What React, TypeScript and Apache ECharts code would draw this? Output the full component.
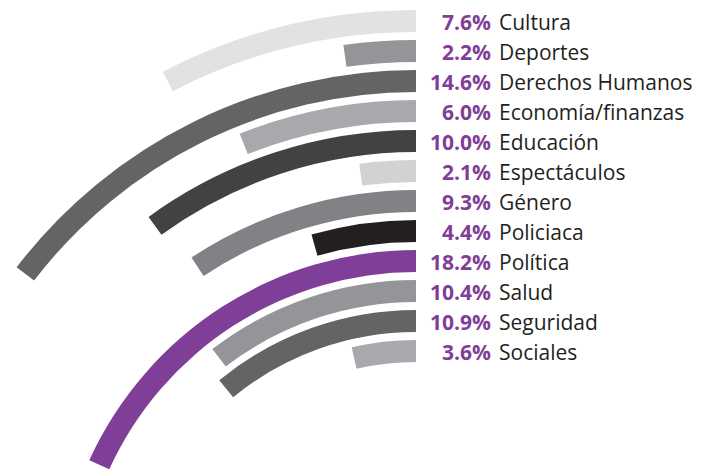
import React, { useEffect, useRef } from "react";
import * as echarts from "echarts";

const categories = [
  "Cultura",
  "Deportes",
  "Derechos Humanos",
  "Economía/finanzas",
  "Educación",
  "Espectáculos",
  "Género",
  "Policiaca",
  "Política",
  "Salud",
  "Seguridad",
  "Sociales",
];
const values = [7.6, 2.2, 14.6, 6.0, 10.0, 2.1, 9.3, 4.4, 18.2, 10.4, 10.9, 3.6];
const percentLabels = ["7.6%", "2.2%", "14.6%", "6.0%", "10.0%", "2.1%", "9.3%", "4.4%", "18.2%", "10.4%", "10.9%", "3.6%"];
const colors = [
  "#e1e2e3",
  "#939598",
  "#636466",
  "#a7a9ac",
  "#414244",
  "#d1d2d4",
  "#808285",
  "#231f20",
  "#7f3f98",
  "#939598",
  "#636466",
  "#a7a9ac",
];

// layout constants
const CX = 416;
const TOP0 = 21; // vertical position of the first ring's top
const STEP = 30; // vertical spacing between rings at the top
const CY0 = 561; // center y of the first ring
const SHIFT = 6; // center y shift per ring
const THICK = 22;
const ACCENT = "#7f3f98";
const FONT = '"Open Sans", "Noto Sans", sans-serif';
const FS = 21;

const ringY = (i: number) => TOP0 + STEP * i;
const centerY = (i: number) => CY0 + SHIFT * i;
const ringR = (i: number) => centerY(i) - ringY(i);

export default function App() {
  const ref = useRef<HTMLDivElement>(null);
  useEffect(() => {
    if (!ref.current) return;
    const chart = echarts.init(ref.current, null, { renderer: "svg" });
    const option: any = {
      animation: false,
      polar: categories.map((_, i) => ({
        center: [CX, centerY(i)],
        radius: [ringR(i) - THICK / 2, ringR(i) + THICK / 2],
      })),
      angleAxis: categories.map((_, i) => ({
        polarIndex: i,
        type: "value",
        min: 0,
        max: 100,
        startAngle: 90,
        clockwise: false,
        show: false,
        axisLine: { show: false },
        axisTick: { show: false },
        axisLabel: { show: false },
        splitLine: { show: false },
      })),
      radiusAxis: categories.map((c, i) => ({
        polarIndex: i,
        type: "category",
        data: [c],
        show: false,
        axisLine: { show: false },
        axisTick: { show: false },
        axisLabel: { show: false },
        splitLine: { show: false },
      })),
      series: categories.map((c, i) => ({
        type: "bar",
        name: c,
        coordinateSystem: "polar",
        polarIndex: i,
        data: [values[i]],
        barWidth: "100%",
        itemStyle: { color: colors[i] },
      })),
      graphic: categories.flatMap((c, i) => [
        {
          type: "text",
          x: 491,
          y: ringY(i) + 1,
          style: {
            text: percentLabels[i],
            fill: ACCENT,
            font: `bold ${FS}px ${FONT}`,
            align: "right",
            verticalAlign: "middle",
          },
        },
        {
          type: "text",
          x: 499,
          y: ringY(i) + 1,
          style: {
            text: c,
            fill: "#231f20",
            font: `${FS}px ${FONT}`,
            align: "left",
            verticalAlign: "middle",
          },
        },
      ]),
    };
    chart.setOption(option);
    return () => chart.dispose();
  }, []);
  return (
    <div
      ref={ref}
      style={{ position: "fixed", left: 0, top: 0, width: 706, height: 475, background: "#fff" }}
    />
  );
}
